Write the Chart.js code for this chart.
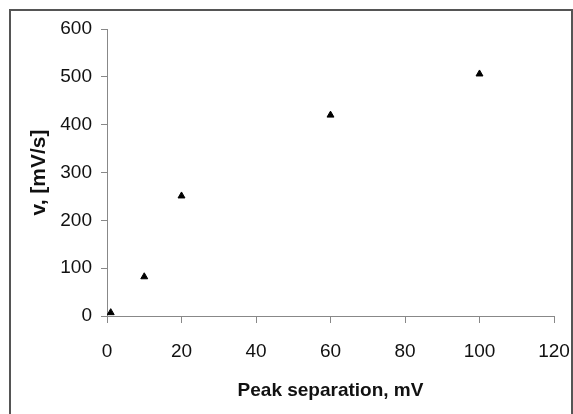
<!DOCTYPE html>
<html>
<head>
<meta charset="utf-8">
<script src="https://cdn.jsdelivr.net/npm/chart.js@4"></script>
<style>
  body { margin: 0; background: #fff; }
  #frame {
    position: absolute;
    left: 9px;
    top: 9px;
    width: 560px;
    height: 410px;
    border: 2px solid #555;
    border-bottom: none;
  }
  canvas { display: block; }
</style>
</head>
<body>
<div id="frame"><canvas id="chart" width="560" height="403"></canvas></div>
<script>
// peak separation (mV) vs scan rate v (mV/s)
const peakSep = [1, 10, 20, 60, 100];
const scanRate = [7, 82, 251, 420, 506];

const xTicks = [0, 20, 40, 60, 80, 100, 120];
const yTicks = [0, 100, 200, 300, 400, 500, 600];

const ctx = document.querySelector("#chart").getContext("2d");

const family = "Liberation Sans, Arial, sans-serif";
const tickFont = { family: family, size: 19 };

const points = peakSep.map(function (x, i) {
  return { x: x, y: scanRate[i] };
});

const chart = new Chart(ctx, {
  type: "scatter",
  data: {
    datasets: [
      {
        data: points,
        pointStyle: "triangle",
        pointRadius: 4,
        backgroundColor: "#000",
        borderColor: "#000",
        borderWidth: 1,
      },
    ],
  },
  options: {
    responsive: false,
    animation: false,
    layout: { padding: { top: 18, right: 17, left: 0, bottom: 0 } },
    plugins: {
      legend: { display: false },
      tooltip: { enabled: false },
    },
    scales: {
      x: {
        type: "linear",
        min: xTicks[0],
        max: xTicks[xTicks.length - 1],
        afterFit: function (scale) {
          // fixed axis band; end labels may spill into the layout padding
          scale.height = 98;
          scale.paddingLeft = 0;
          scale.paddingRight = 0;
        },
        afterBuildTicks: function (scale) {
          scale.ticks = xTicks.map((v) => ({ value: v }));
        },
        ticks: { color: "#111", font: tickFont, padding: 17, maxRotation: 0 },
        grid: { drawOnChartArea: false, drawTicks: true, tickLength: 7, color: "#888" },
        border: { display: true, color: "#888", width: 1 },
        title: {
          display: true,
          text: "Peak separation, mV",
          color: "#111",
          font: { family: family, size: 19, weight: "bold" },
          padding: { top: 0, bottom: 12 },
        },
      },
      y: {
        type: "linear",
        min: yTicks[0],
        max: yTicks[yTicks.length - 1],
        afterFit: function (scale) {
          scale.width = 96;
          scale.paddingTop = 0;
          scale.paddingBottom = 0;
        },
        afterBuildTicks: function (scale) {
          scale.ticks = yTicks.map((v) => ({ value: v }));
        },
        ticks: { color: "#111", font: tickFont, padding: 9 },
        grid: { drawOnChartArea: false, drawTicks: true, tickLength: 6, color: "#888" },
        border: { display: true, color: "#888", width: 1 },
        title: {
          display: true,
          text: "v, [mV/s]",
          color: "#111",
          font: { family: family, size: 21, weight: "bold" },
          padding: { top: 16, bottom: 0 },
        },
      },
    },
  },
});
</script>
</body>
</html>
